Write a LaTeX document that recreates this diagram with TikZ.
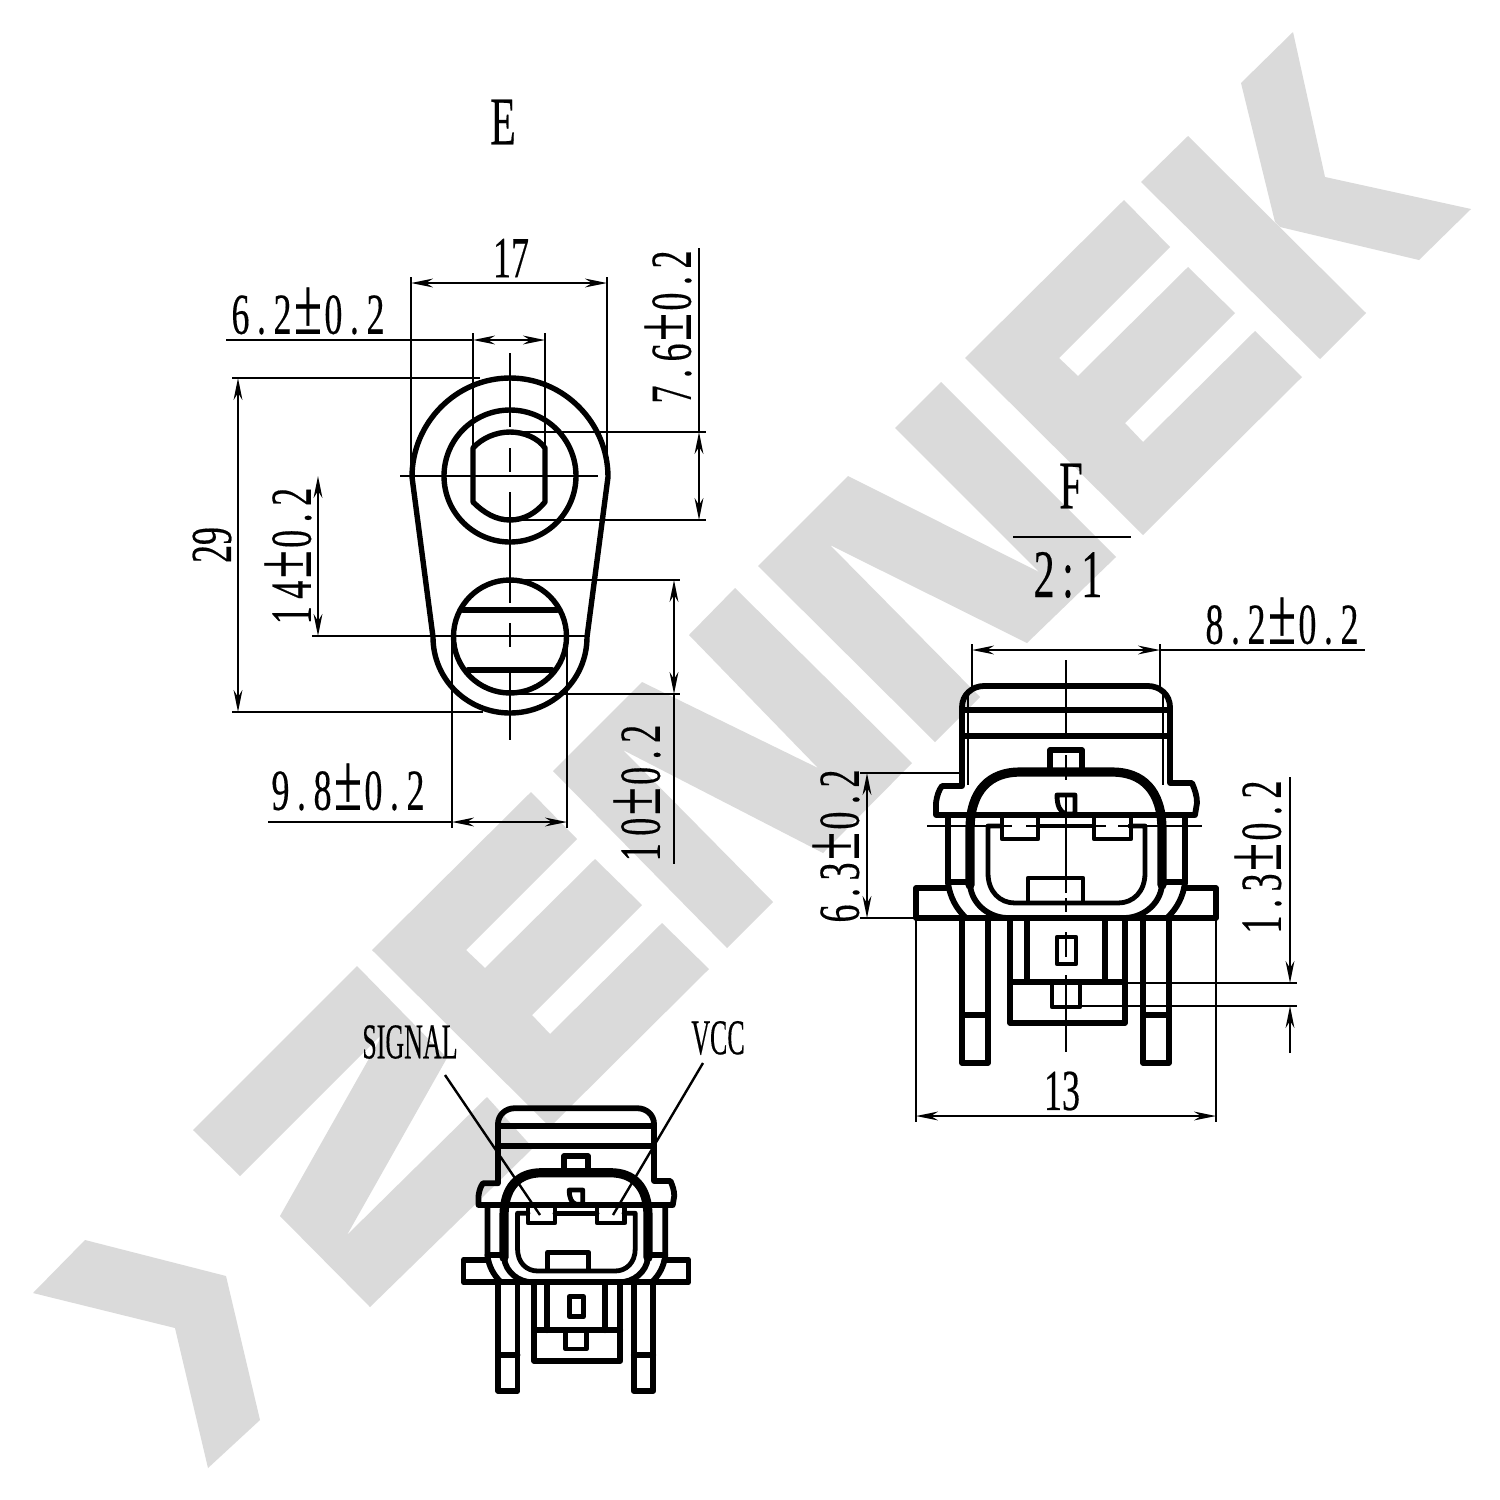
\documentclass[tikz,border=0pt]{standalone}
\usepackage{fontspec}
\usepackage{graphicx}
\usetikzlibrary{arrows.meta}
\setmainfont{Liberation Serif}[FakeBold=0.4]
\newfontfamily\dimfont[LetterSpace=21,FakeBold=0.4]{Liberation Serif}
\definecolor{wm}{HTML}{DADADA}
\newcommand{\plm}{{\fontsize{41}{30}\selectfont ±}}
\newcommand{\dimtxt}[2]{\scalebox{0.62}[1]{\fontsize{29}{30}\dimfont #1\kern2pt\plm\kern2pt #2}}
\newcommand{\plaintxt}[1]{\scalebox{0.62}[1]{\fontsize{29}{30}\selectfont #1}}
\newcommand{\bigtxt}[1]{\scalebox{0.62}[1]{\fontsize{34}{36}\selectfont #1}}
\newcommand{\lbltxt}[1]{\scalebox{0.52}[1]{\fontsize{25}{26}\selectfont #1}}
\tikzset{
  wmark/.style={fill=wm,draw=none},
  heavy/.style={line width=2.9pt,line join=round,line cap=round},
  heavier/.style={line width=4.6pt,line join=round,line cap=round},
  medium/.style={line width=2.4pt,line join=round,line cap=round},
  outlinepen/.style={line width=2.7pt,line join=round,line cap=round},
  thin line/.style={line width=1.2pt},
  dimline/.style={line width=1.2pt,{Stealth[length=11pt,width=4.4pt]}-{Stealth[length=11pt,width=4.4pt]}},
  tiparrow/.style={line width=1.2pt,-{Stealth[length=11pt,width=4.4pt]}},
  txt/.style={inner sep=0pt,outer sep=0pt,anchor=center},
}
% connector, drawn in the coordinates of view F
\newcommand{\connectorbody}{%
  % hood
  \draw[heavy] (936,815) -- (936,803) .. controls (937,795) and (939,790) .. (942,786) -- (962,786)
     -- (962,707) .. controls (962,695) and (972,686) .. (984,686) -- (1148,686)
     .. controls (1160,686) and (1170,695) .. (1170,707) -- (1170,783) -- (1192,783)
     .. controls (1195,790) and (1197,796) .. (1197,803) -- (1195,815) -- cycle;
  \draw[heavy] (962,710) -- (1170,710);
  \draw[heavy] (962,736) -- (1170,736);
  % top tab
  \draw[heavy] (1050,770) -- (1050,750) -- (1082,750) -- (1082,770);
  % oval
  \draw[heavier] (970,885) -- (970,830) .. controls (970,790) and (990,772) .. (1020,772) -- (1112,772)
     .. controls (1142,772) and (1162,790) .. (1162,830) -- (1162,885);
  \draw[heavy] (970,885) .. controls (972,905) and (990,918) .. (1008,918);
  \draw[heavy] (1162,885) .. controls (1160,905) and (1142,918) .. (1124,918);
  % side walls and flanges
  \draw[heavy] (948,815) -- (948,883) .. controls (950,897) and (956,908) .. (965,917);
  \draw[heavy] (1185,815) -- (1185,883) .. controls (1183,897) and (1177,908) .. (1168,917);
  \draw[heavy] (948,882) -- (966,882);
  \draw[heavy] (1166,882) -- (1185,882);
  \draw[heavy] (948,888) -- (916,888) -- (916,918) -- (1216,918) -- (1216,888) -- (1184,888);
  % inner socket
  \draw[medium] (1002,826) -- (988,826) -- (988,873) .. controls (988,892) and (1000,903) .. (1015,903)
     -- (1118,903) .. controls (1133,903) and (1145,892) .. (1145,873) -- (1145,826) -- (1130,826);
  \draw[medium] (1038,826) -- (1094,826);
  \draw[medium] (1002,814) rectangle (1038,839);
  \draw[medium] (1094,814) rectangle (1131,839);
  \draw[medium] (1028,902) -- (1028,878) -- (1083,878) -- (1083,902);
  % key
  \draw[medium] (1057,795) -- (1075,795) -- (1075,814) -- (1066,814) .. controls (1060,812) and (1057,806) .. (1057,795);
  % legs
  \draw[heavy] (962,918) -- (962,1063) -- (988,1063) -- (988,918);
  \draw[heavy] (962,1015) -- (988,1015);
  \draw[heavy] (1143,918) -- (1143,1063) -- (1169,1063) -- (1169,918);
  \draw[heavy] (1143,1015) -- (1169,1015);
  % housing
  \draw[heavy] (1010,918) -- (1010,1023) -- (1125,1023) -- (1125,918);
  \draw[heavy] (1027,918) -- (1027,982);
  \draw[heavy] (1105,918) -- (1105,982);
  \draw[heavy] (1010,982) -- (1125,982);
  \draw[medium] (1057,937) rectangle (1076,964);
  \draw[medium] (1052,982) -- (1052,1007) -- (1080,1007) -- (1080,982);
}
\begin{document}
\begin{tikzpicture}[x=0.5pt,y=-0.5pt]
\useasboundingbox (0,0) rectangle (1500,1500);
\fill[white] (0,0) rectangle (1500,1500);
% ---------- watermark ----------
\fill[wmark] (33,1293) -- (85,1240) -- (226,1276) -- (260,1420) -- (208,1468) -- (175,1328) -- cycle;
\fill[wmark] (357,966) -- (447,1058) -- (347,1235) -- (487,1097) -- (533,1148) -- (370,1307) -- (280,1216) -- (384,1032) -- (240,1176) -- (193,1130) -- cycle;
\fill[wmark] (531,792) -- (577,839) -- (466,950) -- (485,968) -- (595,859) -- (642,905) -- (532,1015) -- (550,1034) -- (662,923) -- (709,969) -- (550,1127) -- (372,950) -- cycle;
\fill[wmark] (642,682) -- (818,768) -- (689,635) -- (735,588) -- (912,763) -- (823,853) -- (623,750) -- (773,902) -- (727,948) -- (553,771) -- cycle;
\fill[wmark] (848,476) -- (1039,572) -- (895,428) -- (941,382) -- (1116,557) -- (1027,643) -- (830,545) -- (980,697) -- (935,742) -- (758,566) -- cycle;
\fill[wmark] (1124,200) -- (1170,247) -- (1059,358) -- (1078,376) -- (1188,267) -- (1235,313) -- (1125,423) -- (1143,442) -- (1255,331) -- (1302,377) -- (1143,535) -- (965,358) -- cycle;
\fill[wmark] (1188,136) -- (1141,182) -- (1320,359) -- (1366,313) -- cycle;
\fill[wmark] (1293,32) -- (1241,83) -- (1275,222) -- (1280,227) -- (1419,260) -- (1471,209) -- (1325,177) -- cycle;
% ---------- view E ----------
\node[txt] (labelE) at (503,122) {\bigtxt{E}};
\draw[outlinepen] (412,477) .. controls (412,423) and (456,378) .. (510,378)
   .. controls (564,378) and (608,423) .. (608,477) -- (587,637)
   .. controls (587,680) and (552,713) .. (510,713) .. controls (468,713) and (433,680) .. (433,637) -- cycle;
\draw[outlinepen] (510,476) circle [radius=66];
\draw[outlinepen] (473,448) .. controls (482,438) and (496,432) .. (510,432) .. controls (524,432) and (538,438) .. (545,448)
   -- (545,502) .. controls (536,513) and (524,520) .. (510,520) .. controls (496,520) and (484,513) .. (473,502) -- cycle;
\draw[outlinepen] (510,636.5) circle [radius=56.5];
\draw[heavy] (463,610) -- (557,610);
\draw[heavy] (468,670) -- (552,670);
% centre lines
\draw[thin line] (510,353) -- (510,427) (510,448) -- (510,472) (510,492) -- (510,603) (510,623) -- (510,647) (510,667) -- (510,740);
\draw[thin line] (400,476) -- (598,476);
\draw[thin line] (312,636) -- (590,636);
% extension lines
\draw[thin line] (411,277) -- (411,477);
\draw[thin line] (607,277) -- (607,470);
\draw[thin line] (473,333) -- (473,450);
\draw[thin line] (545,333) -- (545,450);
\draw[thin line] (226,340) -- (473,340);
\draw[thin line] (232,378) -- (480,378);
\draw[thin line] (232,712) -- (483,712);
\draw[thin line] (510,432) -- (706,432);
\draw[thin line] (510,520) -- (706,520);
\draw[thin line] (510,580) -- (680,580);
\draw[thin line] (510,694) -- (680,694);
\draw[thin line] (452,636) -- (452,828);
\draw[thin line] (567,636) -- (567,828);
\draw[thin line] (268,822) -- (452,822);
\draw[thin line] (699,248) -- (699,432);
\draw[thin line] (674,694) -- (674,864);
% dimensions
\draw[dimline] (411,283) -- (607,283);
\draw[dimline] (473,340) -- (545,340);
\draw[dimline] (699,432) -- (699,520);
\draw[dimline] (238,378) -- (238,712);
\draw[dimline] (318,476) -- (318,636);
\draw[dimline] (674,580) -- (674,694);
\draw[dimline] (452,822) -- (567,822);
\node[txt] (t17) at (511,258) {\plaintxt{17}};
\node[txt] (t62) at (308,311) {\dimtxt{6.2}{0.2}};
\node[txt,rotate=90] (t76) at (668,327) {\dimtxt{7.6}{0.2}};
\node[txt,rotate=90] (t29) at (212,545) {\plaintxt{29}};
\node[txt,rotate=90] (t14) at (288,556) {\dimtxt{14}{0.2}};
\node[txt,rotate=90] (t10) at (637,793) {\dimtxt{10}{0.2}};
\node[txt] (t98) at (348,787) {\dimtxt{9.8}{0.2}};
% ---------- view F ----------
\node[txt] (labelF) at (1071,486) {\bigtxt{F}};
\draw[line width=1.4pt] (1013,537) -- (1131,537);
\node[txt] (scaleF) at (1068,575) {\bigtxt{2\kern6pt:\kern6pt1}};
\connectorbody
\draw[thin line] (968,695) -- (968,785);
\draw[thin line] (1163,695) -- (1163,785);
\draw[thin line] (1066,660) -- (1066,735) (1066,755) -- (1066,780) (1066,795) -- (1066,893) (1066,898) -- (1066,912) (1066,932) -- (1066,957) (1066,975) -- (1066,1052);
\draw[thin line] (927,826) -- (1012,826) (1026,826) -- (1106,826) (1118,826) -- (1202,826);
\draw[thin line] (972,644) -- (972,690);
\draw[thin line] (1160,644) -- (1160,690);
\draw[thin line] (1160,650) -- (1365,650);
\draw[dimline] (972,650) -- (1160,650);
\draw[thin line] (860,773) -- (965,773);
\draw[thin line] (860,918) -- (916,918);
\draw[dimline] (867,773) -- (867,918);
\draw[thin line] (1112,983) -- (1297,983);
\draw[thin line] (1080,1006) -- (1297,1006);
\draw[tiparrow] (1290,777) -- (1290,983);
\draw[tiparrow] (1290,1053) -- (1290,1006);
\draw[thin line] (916,918) -- (916,1122);
\draw[thin line] (1216,918) -- (1216,1122);
\draw[dimline] (916,1116) -- (1216,1116);
\node[txt] (t82) at (1282,621) {\dimtxt{8.2}{0.2}};
\node[txt,rotate=90] (t63) at (836,846) {\dimtxt{6.3}{0.2}};
\node[txt,rotate=90] (t13v) at (1258,857) {\dimtxt{1.3}{0.2}};
\node[txt] (t13) at (1062,1091) {\plaintxt{13}};
% ---------- pin-out view ----------
\begin{scope}[shift={(-223.5,593.75)},xscale=0.75,yscale=0.75]
\connectorbody
\end{scope}
\node[txt] (sig) at (410,1042) {\lbltxt{SIGNAL}};
\node[txt] (vcc) at (718,1038) {\lbltxt{VCC}};
\coordinate (sigstart) at (445,1075);
\coordinate (sigpin) at (540,1215);
\coordinate (vccstart) at (703,1063);
\coordinate (vccpin) at (613,1215);
\draw[thin line] (sigstart) -- (sigpin);
\draw[thin line] (vccstart) -- (vccpin);
\end{tikzpicture}
\end{document}
